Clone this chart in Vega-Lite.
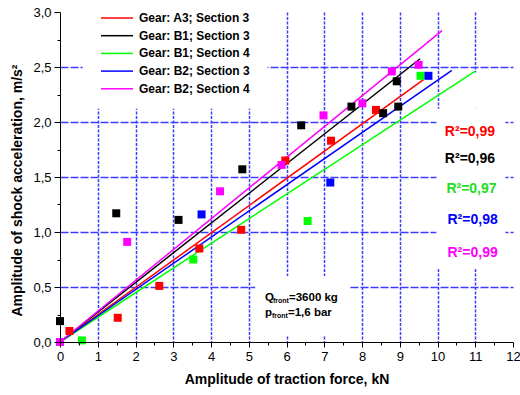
{
  "$schema": "https://vega.github.io/schema/vega-lite/v6.json",
  "width": 453,
  "height": 330,
  "autosize": "none",
  "padding": {"left": 60, "top": 12, "right": 7, "bottom": 53},
  "background": "white",
  "config": {
    "view": {"stroke": null},
    "font": "Liberation Sans",
    "axis": {"labelFont": "Liberation Sans", "titleFont": "Liberation Sans", "labelColor": "black", "titleColor": "black", "tickColor": "black", "domainColor": "black"}
  },
  "data": {"values": [{}]},
  "datasets": {
    "points": [
      {"series": "Gear: A3; Section 3", "x": 0, "y": 0},
      {"series": "Gear: A3; Section 3", "x": 0.25, "y": 0.10},
      {"series": "Gear: A3; Section 3", "x": 1.53, "y": 0.22},
      {"series": "Gear: A3; Section 3", "x": 2.63, "y": 0.51},
      {"series": "Gear: A3; Section 3", "x": 3.69, "y": 0.85},
      {"series": "Gear: A3; Section 3", "x": 4.80, "y": 1.02},
      {"series": "Gear: A3; Section 3", "x": 5.97, "y": 1.65},
      {"series": "Gear: A3; Section 3", "x": 7.18, "y": 1.83},
      {"series": "Gear: A3; Section 3", "x": 8.37, "y": 2.11},
      {"series": "Gear: B1; Section 3", "x": 0, "y": 0},
      {"series": "Gear: B1; Section 3", "x": 0, "y": 0.19},
      {"series": "Gear: B1; Section 3", "x": 1.49, "y": 1.17},
      {"series": "Gear: B1; Section 3", "x": 3.14, "y": 1.11},
      {"series": "Gear: B1; Section 3", "x": 4.83, "y": 1.57},
      {"series": "Gear: B1; Section 3", "x": 6.39, "y": 1.97},
      {"series": "Gear: B1; Section 3", "x": 7.72, "y": 2.14},
      {"series": "Gear: B1; Section 3", "x": 8.56, "y": 2.08},
      {"series": "Gear: B1; Section 3", "x": 8.92, "y": 2.37},
      {"series": "Gear: B1; Section 3", "x": 8.96, "y": 2.14},
      {"series": "Gear: B1; Section 4", "x": 0, "y": 0},
      {"series": "Gear: B1; Section 4", "x": 0.58, "y": 0.015},
      {"series": "Gear: B1; Section 4", "x": 3.53, "y": 0.75},
      {"series": "Gear: B1; Section 4", "x": 6.56, "y": 1.10},
      {"series": "Gear: B1; Section 4", "x": 9.55, "y": 2.42},
      {"series": "Gear: B2; Section 3", "x": 0, "y": 0},
      {"series": "Gear: B2; Section 3", "x": 3.75, "y": 1.16},
      {"series": "Gear: B2; Section 3", "x": 7.16, "y": 1.45},
      {"series": "Gear: B2; Section 3", "x": 9.76, "y": 2.42},
      {"series": "Gear: B2; Section 4", "x": 0, "y": 0},
      {"series": "Gear: B2; Section 4", "x": 1.78, "y": 0.91},
      {"series": "Gear: B2; Section 4", "x": 4.24, "y": 1.37},
      {"series": "Gear: B2; Section 4", "x": 5.87, "y": 1.61},
      {"series": "Gear: B2; Section 4", "x": 6.98, "y": 2.06},
      {"series": "Gear: B2; Section 4", "x": 8.01, "y": 2.17},
      {"series": "Gear: B2; Section 4", "x": 8.79, "y": 2.46},
      {"series": "Gear: B2; Section 4", "x": 9.50, "y": 2.52}
    ],
    "lines": [
      {"series": "Gear: A3; Section 3", "x": 0, "y": 0},
      {"series": "Gear: A3; Section 3", "x": 9.63, "y": 2.385},
      {"series": "Gear: B1; Section 3", "x": 0, "y": 0},
      {"series": "Gear: B1; Section 3", "x": 9.54, "y": 2.575},
      {"series": "Gear: B1; Section 4", "x": 0, "y": 0},
      {"series": "Gear: B1; Section 4", "x": 10.99, "y": 2.46},
      {"series": "Gear: B2; Section 3", "x": 0, "y": 0},
      {"series": "Gear: B2; Section 3", "x": 10.38, "y": 2.47},
      {"series": "Gear: B2; Section 4", "x": 0, "y": 0},
      {"series": "Gear: B2; Section 4", "x": 10.12, "y": 2.83}
    ]
  },
  "layer": [
    {
      "mark": {"type": "rect", "color": "white"},
      "encoding": {
        "x": {"datum": 0.6, "type": "quantitative", "scale": {"domain": [0, 12], "nice": false},
          "axis": {"orient": "bottom", "zindex": 1, "title": "Amplitude of traction force, kN", "values": [0,1,2,3,4,5,6,7,8,9,10,11,12], "format": "d", "grid": false, "tickSize": 5, "labelFontSize": 13, "labelPadding": 3, "labelFlush": false, "labelOverlap": false, "titleFontSize": 14, "titleFontWeight": "bold", "titlePadding": 9}},
        "x2": {"datum": 5.5},
        "y": {"datum": 2.12, "type": "quantitative", "scale": {"domain": [0, 3], "nice": false},
          "axis": {"orient": "left", "zindex": 1, "title": "Amplitude of shock acceleration, m/s²", "values": [0,0.5,1,1.5,2,2.5,3], "labelExpr": "replace(format(datum.value, '.1f'), '.', ',')", "grid": false, "tickSize": 6, "labelFontSize": 13, "labelPadding": 3, "labelFlush": false, "labelOverlap": false, "titleFontSize": 14, "titleFontWeight": "bold", "titlePadding": 8, "titleY": 178}},
        "y2": {"datum": 3}
      }
    },
    {
      "mark": {"type": "rect", "color": "white"},
      "encoding": {
        "x": {"datum": 9.97, "type": "quantitative",
          "axis": {"orient": "bottom", "zindex": 1, "title": null, "values": [0.5,1.5,2.5,3.5,4.5,5.5,6.5,7.5,8.5,9.5,10.5,11.5], "labels": false, "domain": false, "grid": false, "tickSize": 3}},
        "x2": {"datum": 11.8},
        "y": {"datum": 0.67, "type": "quantitative",
          "axis": {"orient": "left", "zindex": 1, "title": null, "values": [0.25,0.75,1.25,1.75,2.25,2.75], "labels": false, "domain": false, "grid": false, "tickSize": 3}},
        "y2": {"datum": 2.12}
      }
    },
    {
      "mark": {"type": "rect", "color": "white"},
      "encoding": {
        "x": {"datum": 10.5, "type": "quantitative",
          "axis": {"orient": "bottom", "zindex": 0, "title": null, "values": [1,2,3,4,5,6,7,8,9,10,11], "labels": false, "domain": false, "ticks": false, "grid": true, "gridColor": "#3c3cff", "gridDash": [3, 1.5], "gridWidth": 1.5}},
        "x2": {"datum": 11.5},
        "y": {"datum": 2.12, "type": "quantitative",
          "axis": {"orient": "left", "zindex": 0, "title": null, "values": [0.5,1,1.5,2,2.5], "labels": false, "domain": false, "ticks": false, "grid": true, "gridColor": "#3c3cff", "gridDash": [8, 2], "gridWidth": 1.5}},
        "y2": {"datum": 2.45}
      }
    },
    {
      "mark": {"type": "rect", "color": "white"},
      "encoding": {
        "x": {"datum": 5.17, "type": "quantitative", "axis": null},
        "x2": {"datum": 7.68},
        "y": {"datum": 0.06, "type": "quantitative", "axis": null},
        "y2": {"datum": 0.6}
      }
    },
    {
      "data": {"name": "lines"},
      "mark": {"type": "line", "strokeWidth": 1.5},
      "encoding": {
        "x": {"field": "x", "type": "quantitative", "axis": null},
        "y": {"field": "y", "type": "quantitative", "axis": null},
        "stroke": {"field": "series", "type": "nominal",
          "scale": {"domain": ["Gear: A3; Section 3", "Gear: B1; Section 3", "Gear: B1; Section 4", "Gear: B2; Section 3", "Gear: B2; Section 4"], "range": ["#ff0000", "#000000", "#00ff00", "#0000ff", "#ff00ff"]},
          "legend": {"orient": "none", "legendX": 48, "legendY": -3, "title": null, "symbolType": "M-2,0H2", "symbolSize": 256, "symbolStrokeWidth": 1.5, "labelFontSize": 12, "labelFontWeight": "bold", "labelFont": "Liberation Sans", "labelColor": "black", "labelOffset": 13, "rowPadding": 2.7}}
      }
    },
    {
      "data": {"name": "points"},
      "mark": {"type": "square", "size": 64, "opacity": 1, "filled": true},
      "encoding": {
        "x": {"field": "x", "type": "quantitative", "axis": null},
        "y": {"field": "y", "type": "quantitative", "axis": null},
        "fill": {"field": "series", "type": "nominal",
          "scale": {"domain": ["Gear: A3; Section 3", "Gear: B1; Section 3", "Gear: B1; Section 4", "Gear: B2; Section 3", "Gear: B2; Section 4"], "range": ["#ff0000", "#000000", "#00ff00", "#0000ff", "#ff00ff"]},
          "legend": null}
      }
    },
    {
      "mark": {"type": "text", "text": "R²=0,99", "color": "#ff0000", "font": "Liberation Sans", "fontWeight": "bold", "fontSize": 14, "align": "center", "baseline": "middle"},
      "encoding": {"x": {"datum": 10.86, "type": "quantitative", "axis": null}, "y": {"datum": 1.91, "type": "quantitative", "axis": null}}
    },
    {
      "mark": {"type": "text", "text": "R²=0,96", "color": "#000000", "font": "Liberation Sans", "fontWeight": "bold", "fontSize": 14, "align": "center", "baseline": "middle"},
      "encoding": {"x": {"datum": 10.86, "type": "quantitative", "axis": null}, "y": {"datum": 1.667, "type": "quantitative", "axis": null}}
    },
    {
      "mark": {"type": "text", "text": "R²=0,97", "color": "#22dd22", "font": "Liberation Sans", "fontWeight": "bold", "fontSize": 14, "align": "center", "baseline": "middle"},
      "encoding": {"x": {"datum": 10.9, "type": "quantitative", "axis": null}, "y": {"datum": 1.395, "type": "quantitative", "axis": null}}
    },
    {
      "mark": {"type": "text", "text": "R²=0,98", "color": "#0000ff", "font": "Liberation Sans", "fontWeight": "bold", "fontSize": 14, "align": "center", "baseline": "middle"},
      "encoding": {"x": {"datum": 10.93, "type": "quantitative", "axis": null}, "y": {"datum": 1.106, "type": "quantitative", "axis": null}}
    },
    {
      "mark": {"type": "text", "text": "R²=0,99", "color": "#ff00ff", "font": "Liberation Sans", "fontWeight": "bold", "fontSize": 14, "align": "center", "baseline": "middle"},
      "encoding": {"x": {"datum": 10.93, "type": "quantitative", "axis": null}, "y": {"datum": 0.809, "type": "quantitative", "axis": null}}
    },
    {
      "mark": {"type": "text", "text": "Q", "color": "black", "font": "Liberation Sans", "fontWeight": "bold", "fontSize": 11.5, "align": "left", "baseline": "alphabetic"},
      "encoding": {"x": {"datum": 5.43, "type": "quantitative", "axis": null}, "y": {"datum": 0.37, "type": "quantitative", "axis": null}}
    },
    {
      "mark": {"type": "text", "text": "front", "color": "black", "font": "Liberation Sans", "fontWeight": "bold", "fontSize": 7, "align": "left", "baseline": "alphabetic", "dx": 8, "dy": 2},
      "encoding": {"x": {"datum": 5.43, "type": "quantitative", "axis": null}, "y": {"datum": 0.37, "type": "quantitative", "axis": null}}
    },
    {
      "mark": {"type": "text", "text": "=3600 kg", "color": "black", "font": "Liberation Sans", "fontWeight": "bold", "fontSize": 11.5, "align": "left", "baseline": "alphabetic", "dx": 24},
      "encoding": {"x": {"datum": 5.43, "type": "quantitative", "axis": null}, "y": {"datum": 0.37, "type": "quantitative", "axis": null}}
    },
    {
      "mark": {"type": "text", "text": "p", "color": "black", "font": "Liberation Sans", "fontWeight": "bold", "fontSize": 11.5, "align": "left", "baseline": "alphabetic"},
      "encoding": {"x": {"datum": 5.43, "type": "quantitative", "axis": null}, "y": {"datum": 0.234, "type": "quantitative", "axis": null}}
    },
    {
      "mark": {"type": "text", "text": "front", "color": "black", "font": "Liberation Sans", "fontWeight": "bold", "fontSize": 7, "align": "left", "baseline": "alphabetic", "dx": 7, "dy": 2},
      "encoding": {"x": {"datum": 5.43, "type": "quantitative", "axis": null}, "y": {"datum": 0.234, "type": "quantitative", "axis": null}}
    },
    {
      "mark": {"type": "text", "text": "=1,6 bar", "color": "black", "font": "Liberation Sans", "fontWeight": "bold", "fontSize": 11.5, "align": "left", "baseline": "alphabetic", "dx": 23},
      "encoding": {"x": {"datum": 5.43, "type": "quantitative", "axis": null}, "y": {"datum": 0.234, "type": "quantitative", "axis": null}}
    }
  ],
  "resolve": {"axis": {"x": "independent", "y": "independent"}, "scale": {"color": "independent"}}
}
